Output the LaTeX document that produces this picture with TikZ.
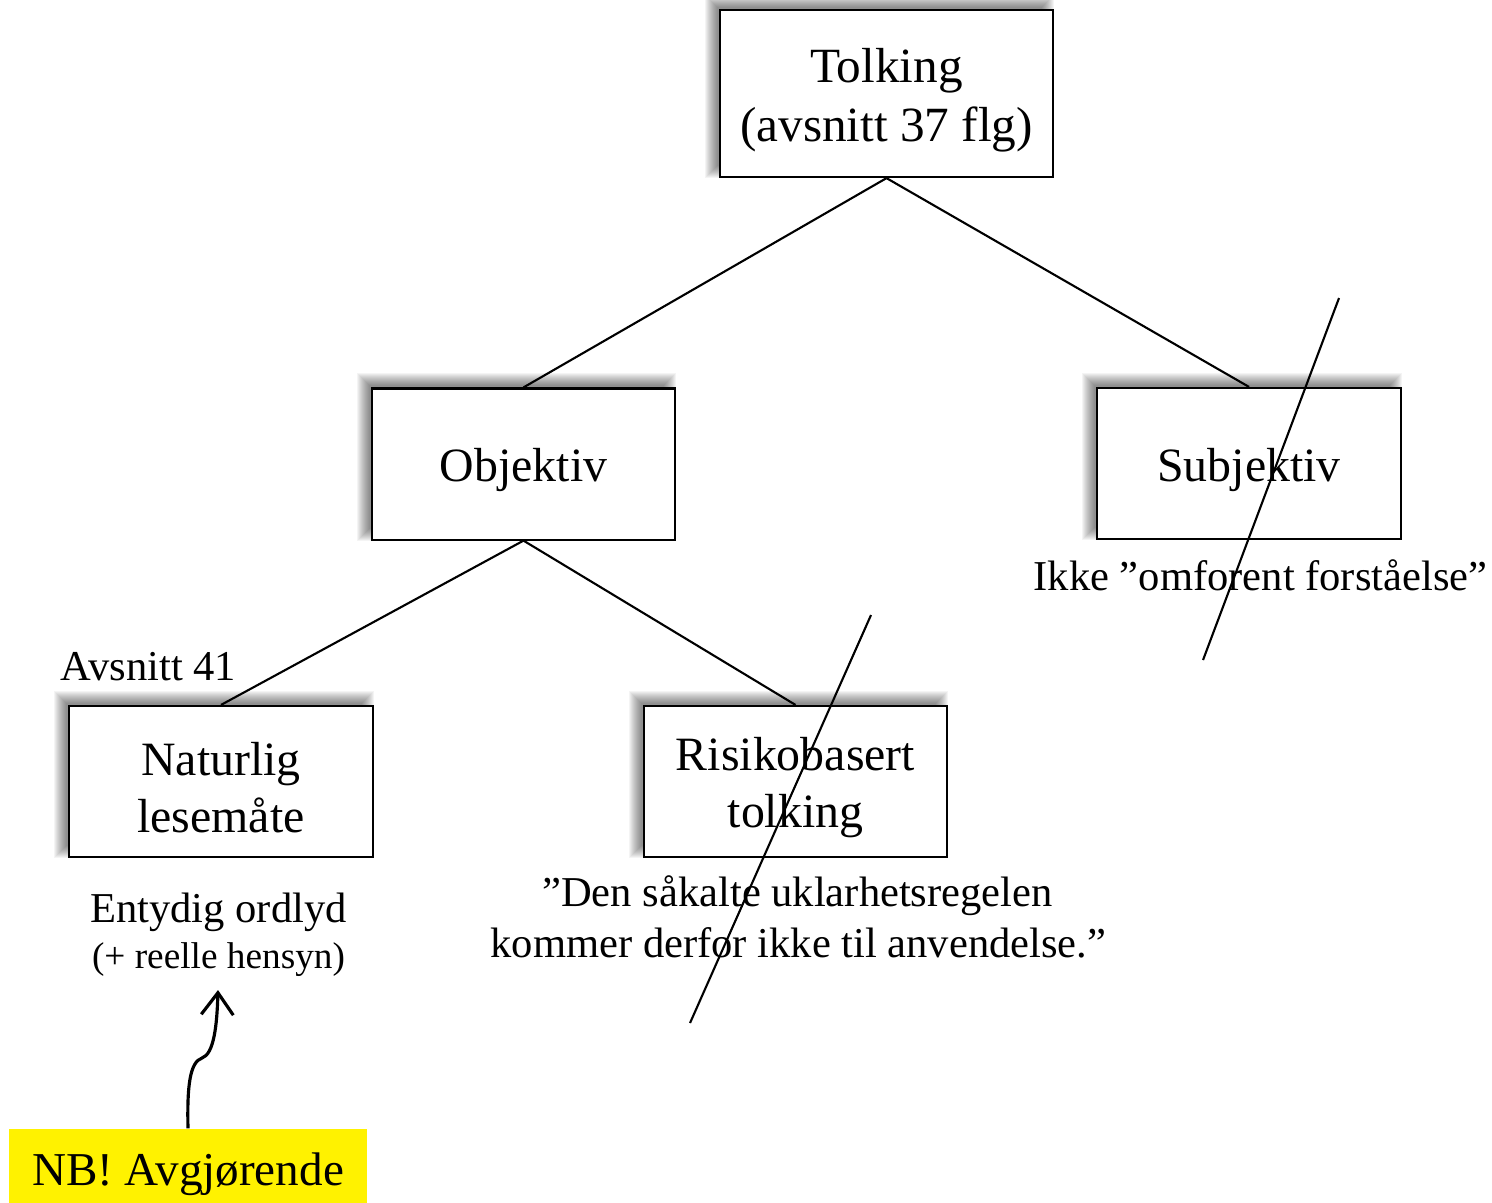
\documentclass[tikz,border=0pt]{standalone}
\usepackage{fontspec}
\setmainfont{Liberation Serif}
\usepackage{tikz}
\usetikzlibrary{arrows.meta, positioning, calc, backgrounds}

% soft shadow up and to the left of a box
\newcommand{\boxshadow}[1]{%
    \foreach \e in {7,6,...,-5}{%
        \fill[black, opacity=0.045] ($(#1.north west)+(-7-\e,-7-\e)$) rectangle ($(#1.south east)+(-7+\e,-7+\e)$);
    }%
}
\newcommand{\boxstrut}{\rule{0pt}{0.95em}}

\begin{document}
\begin{tikzpicture}[x=0.01cm, y=-0.01cm,
    box/.style={rectangle, draw=black, line width=0.6pt, fill=white, minimum width=3.03cm, minimum height=1.51cm, inner sep=0pt, align=center, font=\fontsize{13.6}{16.2}\selectfont},
    topbox/.style={box, minimum width=3.33cm, minimum height=1.67cm, font=\fontsize{14}{16.8}\selectfont},
    note/.style={inner sep=0pt, align=center, font=\fontsize{12.1}{14.8}\selectfont},
    link/.style={line width=0.6pt},
    strike/.style={line width=0.6pt},
    arrow/.style={-{Straight Barb[length=2.2mm, width=3.2mm]}, line width=0.9pt}
]
\useasboundingbox (0,0) rectangle (1492,1202);

% Boxes
\node[topbox] (tolk) at (886.5, 93.5) {\boxstrut Tolking\\(avsnitt 37 flg)};
\node[box] (obj) at (523.5, 464) {\boxstrut Objektiv};
\node[box] (subj) at (1249, 463.5) {\boxstrut Subjektiv};
\node[box] (nat) at (221, 781.5) {\boxstrut Naturlig\\lesemåte};
\node[box] (risk) at (795.5, 781.5) {\boxstrut Risikobasert\\tolking};

% Shadows behind the boxes
\begin{scope}[on background layer]
    \boxshadow{tolk}
    \boxshadow{obj}
    \boxshadow{subj}
    \boxshadow{nat}
    \boxshadow{risk}
\end{scope}

% Tree lines
\draw[link] (tolk.south) -- (obj.north);
\draw[link] (tolk.south) -- (subj.north);
\draw[link] (obj.south) -- (nat.north);
\draw[link] (obj.south) -- (risk.north);

% Notes
\node[note, anchor=base] (ikke) at (1260.5, 590) {Ikke ”omforent forståelse”};
\node[note, anchor=base west] (avs) at (60, 680) {Avsnitt 41};
\node[note, anchor=base] (entydig) at (218.5, 922) {Entydig ordlyd};
\node[note, anchor=base, font=\fontsize{10.6}{12}\selectfont] (hensyn) at (218.5, 968) {(+ reelle hensyn)};
\node[note, anchor=base] (sitat1) at (797.5, 906) {”Den såkalte uklarhetsregelen};
\node[note, anchor=base] (sitat2) at (798.5, 957) {kommer derfor ikke til anvendelse.”};

% Yellow note
\node[rectangle, fill=yellow, minimum width=3.58cm, minimum height=0.78cm, inner sep=0pt, font=\fontsize{13.4}{16}\selectfont] (nb) at (188, 1168) {\rule{0pt}{0.95em}NB! Avgjørende};
\coordinate (pil) at (218, 990);
\draw[arrow] (nb.north) .. controls (187, 1085) and (190, 1062) .. (202, 1058) .. controls (214, 1054) and (217, 1025) .. (pil);

% Crossed out
\draw[strike] (1339, 298) -- (1203, 660);
\draw[strike] (871, 615) -- (690, 1023);

\end{tikzpicture}
\end{document}
